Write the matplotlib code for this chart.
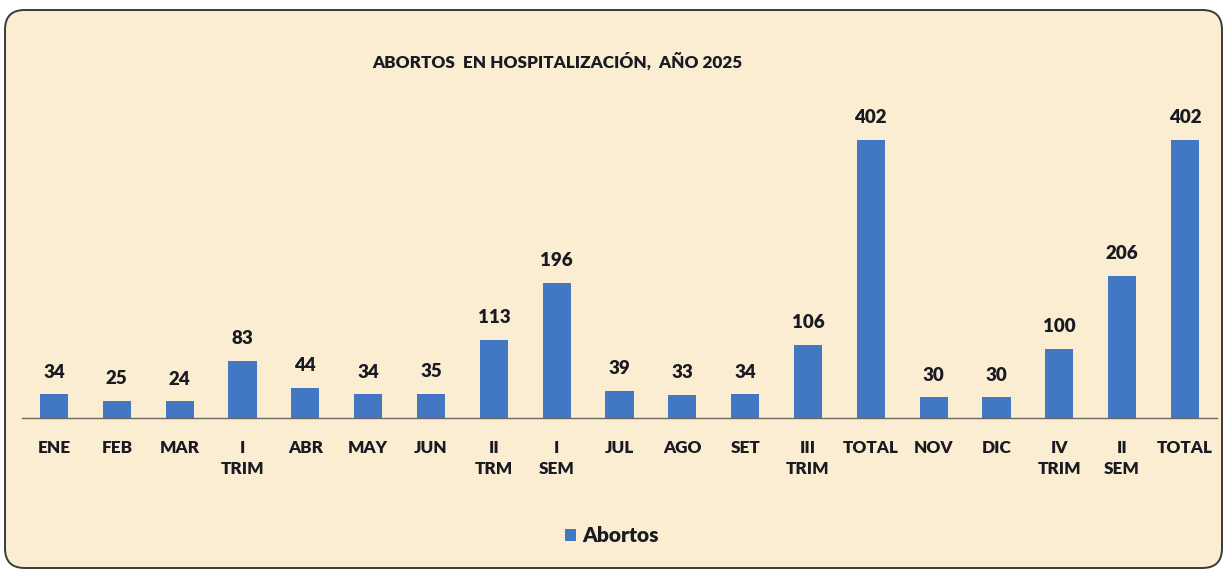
import matplotlib
matplotlib.use('Agg')
import matplotlib.pyplot as plt
from matplotlib.patches import FancyBboxPatch

# Chart data
categories = ['ENE', 'FEB', 'MAR', 'I\nTRIM', 'ABR', 'MAY', 'JUN', 'II\nTRM',
              'I\nSEM', 'JUL', 'AGO', 'SET', 'III\nTRIM', 'TOTAL', 'NOV',
              'DIC', 'IV\nTRIM', 'II\nSEM', 'TOTAL']
abortos = [34, 25, 24, 83, 44, 34, 35, 113, 196, 39, 33, 34, 106, 402,
           30, 30, 100, 206, 402]
title = 'ABORTOS  EN HOSPITALIZACIÓN,  AÑO 2025'
series_name = 'Abortos'

BAR_COLOR = '#4277C4'
TEXT_COLOR = '#1a1a22'
BG_COLOR = '#FAEDD1'
WEIGHT = 'heavy'

plt.rcParams['font.family'] = ['Lato', 'DejaVu Sans']
plt.rcParams['font.weight'] = 'bold'

fig = plt.figure(figsize=(12.27, 5.72), dpi=100)
fig.patch.set_facecolor('white')

# rounded parchment frame, kept behind the axes
frame = FancyBboxPatch((5 / 1227, 4 / 572), 1217 / 1227, 558 / 572,
                       boxstyle='round,pad=0,rounding_size=0.016',
                       transform=fig.transFigure, facecolor=BG_COLOR,
                       edgecolor='#3a3a3a', linewidth=1.4,
                       mutation_aspect=1227 / 572, zorder=-10)
fig.patches.append(frame)

ax = fig.add_axes([22 / 1227, 1 - 418 / 572, 1195 / 1227, 318 / 572])
ax.patch.set_alpha(0)
ax.set_zorder(2)

x = range(len(categories))
bars = ax.bar(x, abortos, width=0.45, color=BAR_COLOR, label=series_name,
              zorder=2)

for xi, v in zip(x, abortos):
    ax.annotate(str(v), (xi, v), xytext=(0, 16), textcoords='offset points',
                ha='center', va='center', fontsize=13.5, fontweight=WEIGHT,
                color=TEXT_COLOR)

ax.set_xlim(-0.51, len(categories) - 0.49)
ax.set_ylim(0, 460)
ax.set_xticks(list(x))
ax.set_xticklabels(categories, fontsize=12.3, fontweight=WEIGHT,
                   color=TEXT_COLOR, linespacing=1.4)
ax.tick_params(axis='x', length=0, pad=16)
ax.set_yticks([])
for side in ['top', 'right', 'left']:
    ax.spines[side].set_visible(False)
ax.spines['bottom'].set_color('#6b6660')
ax.spines['bottom'].set_linewidth(1.0)

fig.text(557 / 1227, 1 - 62 / 572, title, ha='center', va='center',
         fontsize=12.3, fontweight=WEIGHT, color=TEXT_COLOR)

leg = fig.legend(handles=[bars], labels=[series_name], loc='center',
                 bbox_to_anchor=(612 / 1227, 1 - 536 / 572), frameon=False,
                 prop={'size': 15, 'weight': WEIGHT}, handlelength=0.55,
                 handleheight=0.55, handletextpad=0.3)
for t in leg.get_texts():
    t.set_color(TEXT_COLOR)

fig.savefig('out.png', dpi=100, facecolor=fig.get_facecolor())
